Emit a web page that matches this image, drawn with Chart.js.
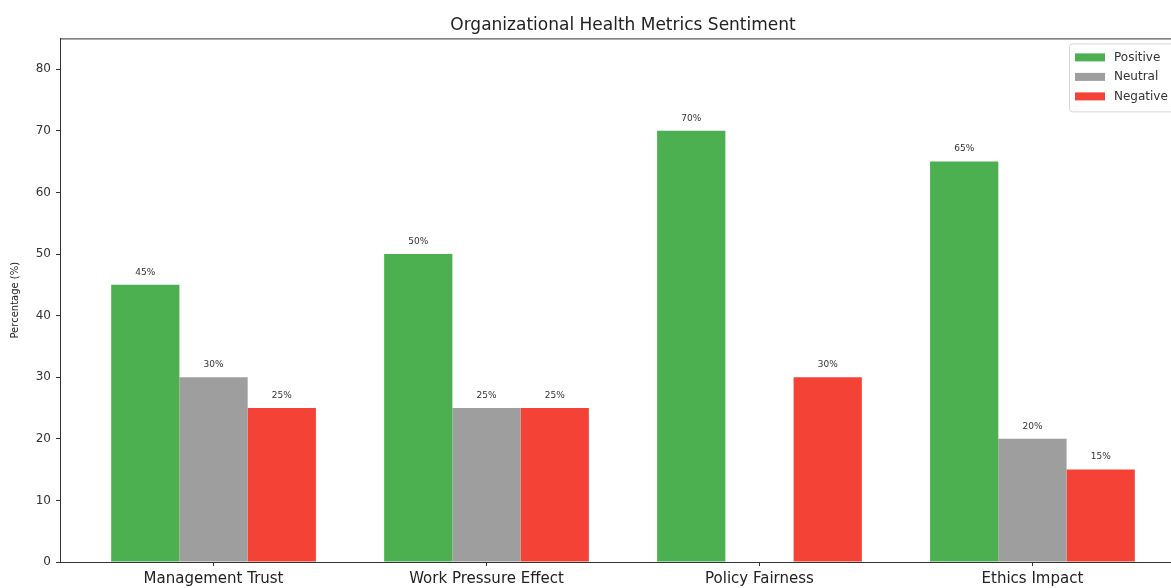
<!DOCTYPE html>
<html>
<head>
<meta charset="utf-8">
<script src="https://cdn.jsdelivr.net/npm/chart.js@4.4.0/dist/chart.umd.min.js"></script>
<style>
  html, body { margin: 0; padding: 0; background: #fff; overflow: hidden; }
  #wrap { width: 1186px; height: 588px; }
</style>
</head>
<body>
<div id="wrap"><canvas id="chart"></canvas></div>
<script>
const categories = ["Management Trust", "Work Pressure Effect", "Policy Fairness", "Ethics Impact"];
const positive = [45, 50, 70, 65];
const neutral = [30, 25, 0, 20];
const negative = [25, 25, 30, 15];
const yTicks = [0, 10, 20, 30, 40, 50, 60, 70, 80];

const FONT = "'DejaVu Sans', sans-serif";

function points(arr) {
  return arr.map((v, i) => ({ x: i, y: v }));
}

// value labels above the bars
const barLabels = {
  id: "barLabels",
  afterDatasetsDraw(chart) {
    const ctx = chart.ctx;
    ctx.save();
    ctx.font = "9px " + FONT;
    ctx.fillStyle = "#333";
    ctx.textAlign = "center";
    ctx.textBaseline = "bottom";
    chart.data.datasets.forEach((ds, di) => {
      chart.getDatasetMeta(di).data.forEach((bar, i) => {
        const v = ds.data[i].y;
        if (!v) return;
        ctx.fillText(v + "%", bar.x, bar.y - 8);
      });
    });
    ctx.restore();
  }
};

// frame around the plot + legend box inside it
const frameAndLegend = {
  id: "frameAndLegend",
  afterDraw(chart) {
    const ctx = chart.ctx;
    const a = chart.chartArea;
    ctx.save();
    ctx.strokeStyle = "#333";
    ctx.lineWidth = 1;
    ctx.strokeRect(a.left + 0.5, a.top + 0.5, a.right - a.left - 1, a.bottom - a.top);

    const bx = a.right - 117, by = a.top + 5, bw = 112, bh = 68;
    ctx.fillStyle = "rgba(255,255,255,0.8)";
    ctx.strokeStyle = "#d6d6d6";
    ctx.beginPath();
    ctx.roundRect(bx + 0.5, by + 0.5, bw, bh, 3);
    ctx.fill();
    ctx.stroke();

    ctx.font = "12px " + FONT;
    ctx.textBaseline = "middle";
    ctx.textAlign = "left";
    chart.data.datasets.forEach((ds, i) => {
      const y = by + 14 + i * 19.5;
      ctx.fillStyle = ds.backgroundColor;
      ctx.fillRect(bx + 6, y - 4, 30, 8);
      ctx.fillStyle = "#333";
      ctx.fillText(ds.label, bx + 45, y);
    });
    ctx.restore();
  }
};

new Chart(document.getElementById("chart"), {
  type: "bar",
  data: {
    datasets: [
      { label: "Positive", data: points(positive), backgroundColor: "#4CAF50" },
      { label: "Neutral", data: points(neutral), backgroundColor: "#9E9E9E" },
      { label: "Negative", data: points(negative), backgroundColor: "#F44336" }
    ]
  },
  options: {
    responsive: true,
    maintainAspectRatio: false,
    animation: false,
    categoryPercentage: 0.75,
    barPercentage: 1.0,
    layout: { padding: { left: 0, right: 0, top: 0, bottom: 0 } },
    plugins: {
      legend: { display: false },
      tooltip: { enabled: false },
      title: {
        display: true,
        fullSize: false,
        text: "Organizational Health Metrics Sentiment",
        color: "#222",
        font: { family: FONT, size: 17, weight: "normal" },
        padding: { top: 15, bottom: 3 }
      }
    },
    scales: {
      x: {
        type: "linear",
        offset: false,
        min: -0.5625,
        max: 3.5625,
        afterBuildTicks(scale) {
          scale.ticks = categories.map((c, i) => ({ value: i }));
        },
        afterFit(scale) { scale.height = 26; },
        ticks: {
          autoSkip: false,
          maxRotation: 0,
          padding: 4,
          color: "#222",
          font: { family: FONT, size: 15 },
          callback: (v) => categories[v]
        },
        grid: { display: true, offset: false, drawOnChartArea: false, tickLength: 4, color: "#333" },
        border: { display: true, color: "#333" }
      },
      y: {
        min: 0,
        max: 85,
        afterBuildTicks(scale) {
          scale.ticks = yTicks.map((v) => ({ value: v }));
        },
        afterFit(scale) { scale.width = 60; },
        title: {
          display: true,
          text: "Percentage (%)",
          color: "#222",
          font: { family: FONT, size: 10 },
          padding: { top: 9, bottom: 4 }
        },
        ticks: {
          padding: 5,
          color: "#333",
          font: { family: FONT, size: 12 }
        },
        grid: { display: true, drawOnChartArea: false, tickLength: 4, color: "#333" },
        border: { display: true, color: "#333" }
      }
    }
  },
  plugins: [barLabels, frameAndLegend]
});
</script>
</body>
</html>
